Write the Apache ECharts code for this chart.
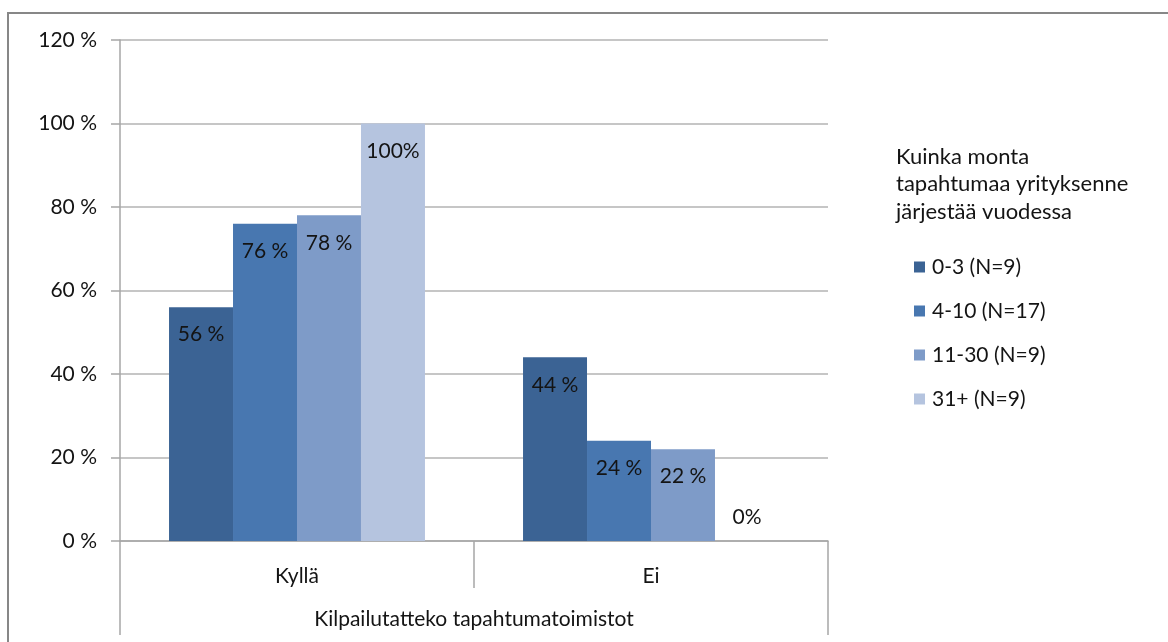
<!DOCTYPE html>
<html>
<head>
<meta charset="utf-8">
<script src="https://cdn.jsdelivr.net/npm/echarts@6/dist/echarts.min.js"></script>
<style>
  html, body { margin: 0; padding: 0; background: #ffffff; }
  #chart { width: 1168px; height: 642px; }
</style>
</head>
<body>
<div id="chart"></div>
<script>
// Answer categories and the outer grouping label
const categories = ['Kyllä', 'Ei'];
const groupLabel = ['Kilpailutatteko tapahtumatoimistot'];

// Share of companies (%) by number of events organised per year
const seriesNames = ['0-3 (N=9)', '4-10 (N=17)', '11-30 (N=9)', '31+ (N=9)'];
const values_0_3 = [56, 44];
const values_4_10 = [76, 24];
const values_11_30 = [78, 22];
const values_31plus = [100, 0];

const yTicks = [0, 20, 40, 60, 80, 100, 120];

const colors = ['#3b6394', '#4877b0', '#7e9bc8', '#b5c4df'];
const FONT = 'Lato, "Open Sans", sans-serif';
const TEXT = '#141414';

function fmt(v) {
  return (v === 0 || v === 100) ? v + '%' : v + ' %';
}

function makeSeries(name, vals, color) {
  return {
    name: name,
    type: 'bar',
    xAxisIndex: 0,
    barGap: '0%',
    barCategoryGap: '27.7%',
    itemStyle: { color: color },
    label: {
      show: true,
      position: 'insideTop',
      distance: 17,
      fontFamily: FONT,
      fontSize: 21,
      color: TEXT,
      formatter: p => fmt(p.value)
    },
    data: vals.map(v => v === 0
      ? { value: v, label: { position: 'top', distance: 13 } }
      : v),
    emphasis: { disabled: true }
  };
}

const chart = echarts.init(document.getElementById('chart'), null, { renderer: 'canvas' });

chart.setOption({
  animation: false,
  backgroundColor: '#ffffff',
  color: colors,
  title: {
    text: 'Kuinka monta\ntapahtumaa yrityksenne\njärjestää vuodessa',
    left: 891,
    top: 138,
    textStyle: {
      fontFamily: FONT,
      fontSize: 22,
      fontWeight: 'normal',
      color: TEXT,
      lineHeight: 27.5
    }
  },
  legend: {
    orient: 'vertical',
    left: 909,
    top: 251,
    icon: 'rect',
    itemWidth: 11,
    itemHeight: 11,
    itemGap: 22,
    selectedMode: false,
    textStyle: { fontFamily: FONT, fontSize: 21, lineHeight: 22, color: TEXT, padding: [0, 0, 0, 2] },
    data: seriesNames
  },
  grid: { left: 120, right: 340, top: 40, bottom: 101, containLabel: false },
  xAxis: [
    {
      type: 'category',
      data: categories,
      position: 'bottom',
      axisLine: { show: true, lineStyle: { color: '#a6a6a6', width: 1.5 } },
      axisTick: { show: true, length: 47, lineStyle: { color: '#a6a6a6', width: 1.5 } },
      axisLabel: { margin: 25, fontFamily: FONT, fontSize: 21, color: TEXT },
      splitLine: { show: false }
    },
    {
      type: 'category',
      data: groupLabel,
      position: 'bottom',
      axisLine: { show: false },
      axisTick: { show: true, length: 94, lineStyle: { color: '#a6a6a6', width: 1.5 } },
      axisLabel: { margin: 68, fontFamily: FONT, fontSize: 21, color: TEXT },
      splitLine: { show: false }
    }
  ],
  yAxis: {
    type: 'value',
    min: yTicks[0],
    max: yTicks[yTicks.length - 1],
    interval: 20,
    axisLine: { show: true, lineStyle: { color: '#a6a6a6', width: 1.5 } },
    axisTick: { show: true, inside: false, length: 9, lineStyle: { color: '#a6a6a6', width: 1.5 } },
    axisLabel: {
      margin: 23,
      fontFamily: FONT,
      fontSize: 21,
      color: TEXT,
      formatter: v => v + ' %'
    },
    splitLine: { show: true, lineStyle: { color: '#b3b3b3', width: 1.5 } }
  },
  series: [
    makeSeries(seriesNames[0], values_0_3, colors[0]),
    makeSeries(seriesNames[1], values_4_10, colors[1]),
    makeSeries(seriesNames[2], values_11_30, colors[2]),
    makeSeries(seriesNames[3], values_31plus, colors[3])
  ],
  graphic: [
    {
      type: 'rect',
      shape: { x: 8, y: 13, width: 1200, height: 700 },
      style: { fill: 'none', stroke: '#878787', lineWidth: 2 },
      silent: true,
      z: 100
    }
  ]
});
</script>
</body>
</html>
